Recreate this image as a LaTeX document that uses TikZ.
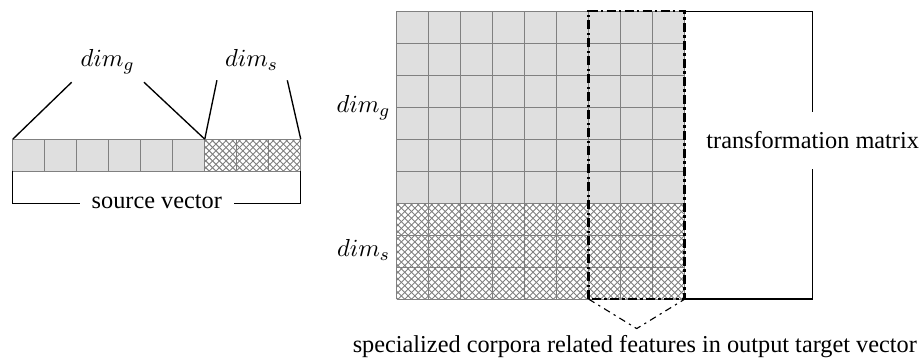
\documentclass[tikz,border=0pt]{standalone}
\usepackage{fontspec}
\setmainfont{Liberation Serif}
\usetikzlibrary{patterns}

\begin{document}
\begin{tikzpicture}[font=\fontsize{10.8}{13}\selectfont,
		celdas/.style={draw=gray, line width=0.4pt},
		gris/.style={fill=gray!25},
		rayas1/.style={pattern=north east lines, pattern color=gray},
		rayas2/.style={pattern=north west lines, pattern color=gray},
		corchete/.style={line width=0.6pt},
		marcador/.style={line width=1.1pt, dash pattern=on 4pt off 1.5pt on 1pt off 1.5pt},
		flecha/.style={line width=0.5pt, dash pattern=on 3pt off 2pt on 1pt off 2pt}]
		\useasboundingbox (0,0) rectangle (14.44,5.625);
		
		% vector fuente
		\begin{scope}[shift={(0.2,2.95)}]
			\fill[gris] (0,0) rectangle (3,0.5);
			\fill[rayas1] (3,0) rectangle (4.5,0.5);
			\fill[rayas2] (3,0) rectangle (4.5,0.5);
			\draw[celdas, step=0.5] (0,0) grid (4.5,0.5);
			\coordinate (v0) at (0,0.5);
			\coordinate (v1) at (3,0.5);
			\coordinate (v2) at (4.5,0.5);
			\coordinate (vb0) at (0,0);
			\coordinate (vb1) at (4.5,0);
		\end{scope}
		
		% etiquetas del vector
		\node[anchor=base] (vg) at (1.68,4.58) {$dim_g$};
		\node[anchor=base] (vs) at (3.93,4.58) {$dim_s$};
		\coordinate (g1) at (1.12,4.34);
		\coordinate (g2) at (2.25,4.34);
		\coordinate (s1) at (3.39,4.37);
		\coordinate (s2) at (4.49,4.37);
		\draw[corchete] (v0) -- (g1);
		\draw[corchete] (v1) -- (g2);
		\draw[corchete] (v1) -- (s1);
		\draw[corchete] (v2) -- (s2);
		
		% source vector
		\node[anchor=mid, inner xsep=0.18cm] (sv) at (2.45,2.44) {source vector};
		\draw[corchete] (vb0) |- (sv.mid west);
		\draw[corchete] (vb1) |- (sv.mid east);
		
		% matriz
		\begin{scope}[shift={(6.2,0.95)}]
			\fill[gris] (0,1.5) rectangle (4.5,4.5);
			\fill[rayas1] (0,0) rectangle (4.5,1.5);
			\fill[rayas2] (0,0) rectangle (4.5,1.5);
			\draw[celdas, step=0.5] (0,0) grid (4.5,4.5);
			\draw[marcador] (3,0) rectangle (4.5,4.5);
			\coordinate (mbl) at (3,0);
			\coordinate (mtr) at (4.5,4.5);
			\coordinate (mbr) at (4.5,0);
		\end{scope}
		
		% etiquetas de la matriz
		\node[anchor=base] (mg) at (5.68,3.86) {$dim_g$};
		\node[anchor=base] (ms) at (5.68,1.61) {$dim_s$};
		
		% transformation matrix
		\node[inner xsep=2pt, inner ysep=0.31cm] (tm) at (12.7,3.43) {transformation matrix};
		\draw[corchete] (mtr) -| (tm.north);
		\draw[corchete] (mbr) -| (tm.south);
		
		% specialized
		\coordinate (pico) at (9.95,0.49);
		\draw[flecha] (mbl) -- (pico) -- (mbr);
		\node[anchor=base] (esp) at (9.92,0.11) {specialized corpora related features in output target vector};
	\end{tikzpicture}
\end{document}
